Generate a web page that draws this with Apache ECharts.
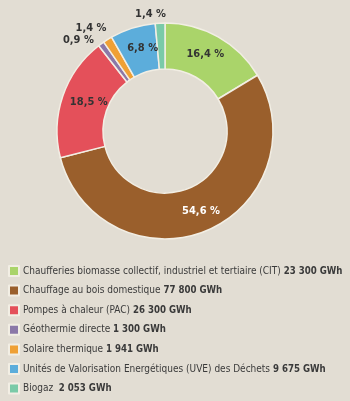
<!DOCTYPE html>
<html><head><meta charset="utf-8">
<script src="https://cdn.jsdelivr.net/npm/echarts@6/dist/echarts.min.js"></script>
<style>html,body{margin:0;padding:0;background:#e2ddd3;}#c{width:350px;height:401px;}</style>
</head><body><div id="c"></div>
<script>
const categories = [
  "Chaufferies biomasse collectif, industriel et tertiaire (CIT)",
  "Chauffage au bois domestique",
  "Pompes à chaleur (PAC)",
  "Géothermie directe",
  "Solaire thermique",
  "Unités de Valorisation Energétiques (UVE) des Déchets",
  "Biogaz "
];
const valuesGWh = [23300, 77800, 26300, 1300, 1941, 9675, 2053];
const valueLabels = ["23 300 GWh", "77 800 GWh", "26 300 GWh", "1 300 GWh", "1 941 GWh", "9 675 GWh", "2 053 GWh"];
const percentLabels = ["16,4 %", "54,6 %", "18,5 %", "0,9 %", "1,4 %", "6,8 %", "1,4 %"];
const colors = ["#aad46a", "#9a5f2c", "#e4505a", "#8b78a8", "#efa035", "#5caddb", "#7acaa8"];
const outside = [false, false, false, true, true, false, true];
const labelOffsets = [[-3,0],[2,-1],[7,0],[0,0],[6,-8],[4,1],[11,-5]];

const FONT = "'Liberation Sans Narrow','DejaVu Sans Condensed','Open Sans',sans-serif";
const chart = echarts.init(document.getElementById('c'));
const data = categories.map((n, i) => ({
  name: n,
  value: valuesGWh[i],
  itemStyle: { color: colors[i] },
  label: {
    position: outside[i] ? 'outside' : 'inside',
    color: i === 1 ? '#fff' : '#333',
    fontWeight: 'bold', fontSize: 11,
    offset: labelOffsets[i]
  },
  labelLine: { show: false, length: 4, length2: 0 }
}));
chart.setOption({
  backgroundColor: '#e2ddd3',
  animation: false,
  legend: {
    orient: 'vertical', left: 8, top: 265, height: 136, padding: 0, itemWidth: 10, itemHeight: 10, itemGap: 7.6,
    icon: 'rect',
    textStyle: { fontFamily: FONT, fontSize: 10, color: '#3a3a3a', padding: [0,0,0,-1],
      rich: { b: { fontFamily: FONT, fontSize: 9.6, fontWeight: 'bold', color: '#3a3a3a' } } },
    formatter: name => {
      const i = categories.indexOf(name);
      return name + ' {b|' + valueLabels[i] + '}';
    }
  },
  series: [{
    type: 'pie',
    center: [165, 131],
    radius: [62, 108],
    startAngle: 90,
    clockwise: true,
    itemStyle: { borderColor: '#f2eee4', borderWidth: 1.5 },
    label: { fontFamily: FONT, formatter: p => percentLabels[p.dataIndex] },
    labelLayout: { hideOverlap: false },
    avoidLabelOverlap: false,
    data: data
  }]
});
</script></body></html>
